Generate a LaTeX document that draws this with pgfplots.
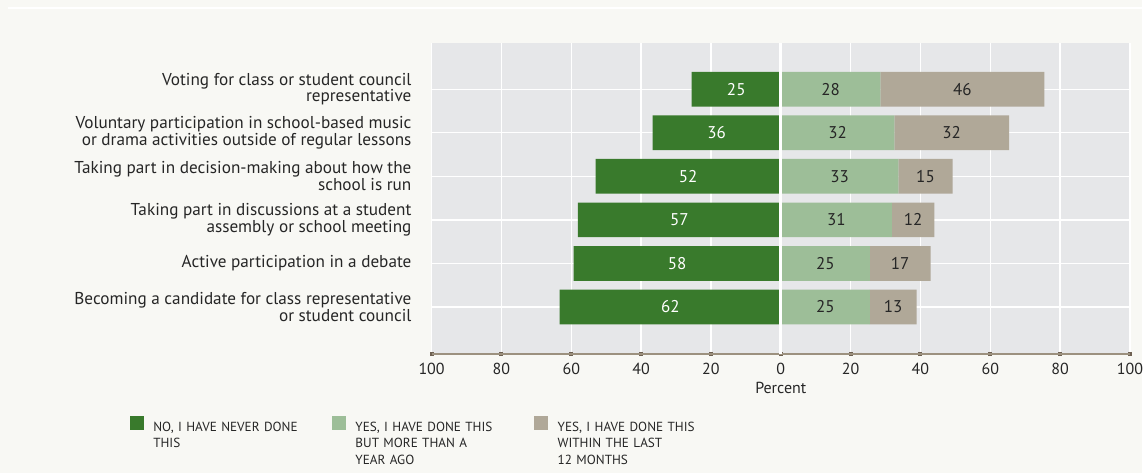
\documentclass[border=0pt]{standalone}
\usepackage{pgfplots}
\usepackage{pgfplotstable}
\pgfplotsset{compat=1.18}
\usepackage{fontspec}
\setmainfont{PT Sans}
\definecolor{bgc}{HTML}{F8F8F4}
\definecolor{plotbg}{HTML}{E6E7E9}
\definecolor{dkgreen}{HTML}{397A2C}
\definecolor{ltgreen}{HTML}{9DBE98}
\definecolor{graybar}{HTML}{B0A898}
\definecolor{axisc}{HTML}{9C917F}
\definecolor{tickc}{HTML}{6E6152}
\definecolor{txtc}{HTML}{262626}
\newcommand{\catf}{\fontsize{17.2}{15.2}\selectfont}
\newcommand{\barf}{\fontsize{17}{17}\selectfont}
\newcommand{\tickf}{\fontsize{16}{16}\selectfont}
\newcommand{\legf}{\fontsize{13.2}{16.5}\selectfont}

% y: 0 = bottom row ... 5 = top row
\pgfplotstableread{
y   g      lg    gr
5   -25.5  28.5  47.0
4   -36.7  32.5  32.9
3   -53.0  33.7  15.5
2   -58.1  31.8  12.2
1   -59.3  25.5  17.4
0   -63.3  25.5  13.4
}\bars

% label positions (segment centres) and texts
\pgfplotstableread{
x       y  t
-12.75  5  25
-18.35  4  36
-26.50  3  52
-29.05  2  57
-29.65  1  58
-31.65  0  62
}\glabs
\pgfplotstableread{
x       y  t
14.25   5  28
52.00   5  46
16.25   4  32
48.95   4  32
16.85   3  33
41.45   3  15
15.90   2  31
37.90   2  12
12.75   1  25
34.20   1  17
12.75   0  25
32.20   0  13
}\olabs

\begin{document}
\begin{tikzpicture}[x=1pt,y=1pt]
\fill[bgc] (0,0) rectangle (1143,473);
\draw[white, line width=2pt] (8,465) -- (1143,465);
\pgfplotsset{base/.style={at={(432pt,118.5pt)}, anchor=south west,
  scale only axis, width=699pt, height=311.5pt,
  xmin=-100, xmax=100, ymin=-1.083, ymax=6.062}}

% Axis A: background, grid, ticks, labels, negative bars
\begin{axis}[base,
  axis background/.style={fill=plotbg},
  xbar, bar width=34.7pt,
  xtick={-100,-80,...,100},
  xticklabels={100,80,60,40,20,0,20,40,60,80,100},
  ytick={0,...,5},
  yticklabels={{Becoming a candidate for class representative\\or student council},
    {Active participation in a debate},
    {Taking part in discussions at a student\\assembly or school meeting},
    {Taking part in decision-making about how the\\school is run},
    {Voluntary participation in school-based music\\or drama activities outside of regular lessons},
    {Voting for class or student council\\representative}},
  yticklabel style={align=right, font=\catf, text=txtc, inner sep=0pt, xshift=-18pt},
  xticklabel style={font=\tickf, text=txtc, inner sep=0pt, yshift=-6.5pt},
  grid=major, major grid style={white, line width=1.3pt},
  axis x line*=bottom, axis y line*=left,
  x axis line style={draw=axisc, line width=2pt, -},
  y axis line style={draw=none},
  xtick style={draw=tickc, line width=4pt},
  ytick style={draw=none},
  major tick length=4pt, tick align=center,
  xlabel={Percent}, xlabel style={font=\tickf, text=txtc, inner sep=0pt, yshift=-8pt},
]
\addplot[fill=dkgreen, draw=none] table[x=g, y=y] {\bars};
\end{axis}

% Axis B: positive stacked bars
\begin{axis}[base, hide axis, xbar stacked, bar width=34.7pt]
\addplot[fill=ltgreen, draw=none] table[x=lg, y=y] {\bars};
\addplot[fill=graybar, draw=none] table[x=gr, y=y] {\bars};
\end{axis}

% Axis C: zero line, value labels, legend
\begin{axis}[base, hide axis,
  legend style={at={(-0.43205,-0.19743)}, anchor=north west, draw=none, fill=none,
    inner sep=0pt, outer sep=0pt,
    nodes={inner sep=0pt, text width=170pt, align=left, font=\legf, text=txtc},
    /tikz/every odd column/.append style={column sep=10pt},
    /tikz/every even column/.append style={column sep=9pt}},
  legend columns=3, legend cell align=left]
\addplot[white, line width=2.6pt, forget plot] coordinates {(0,-1.083) (0,6.062)};
\addplot[only marks, mark=none, forget plot, point meta=explicit symbolic,
  nodes near coords, every node near coord/.append style={anchor=center, font=\barf, text=white}]
  table[x=x, y=y, meta=t] {\glabs};
\addplot[only marks, mark=none, forget plot, point meta=explicit symbolic,
  nodes near coords, every node near coord/.append style={anchor=center, font=\barf, text=txtc}]
  table[x=x, y=y, meta=t] {\olabs};
\addlegendimage{legend image code/.code={\fill[dkgreen] (0pt,-1.5pt) rectangle (13pt,11.5pt);}}
\addlegendentry{NO, I HAVE NEVER DONE\\THIS}
\addlegendimage{legend image code/.code={\fill[ltgreen] (0pt,-1.5pt) rectangle (13pt,11.5pt);}}
\addlegendentry{YES, I HAVE DONE THIS\\BUT MORE THAN A\\YEAR AGO}
\addlegendimage{legend image code/.code={\fill[graybar] (0pt,-1.5pt) rectangle (13pt,11.5pt);}}
\addlegendentry{YES, I HAVE DONE THIS\\WITHIN THE LAST\\12 MONTHS}
\end{axis}
\useasboundingbox (0,0) rectangle (1143,473);
\end{tikzpicture}
\end{document}
